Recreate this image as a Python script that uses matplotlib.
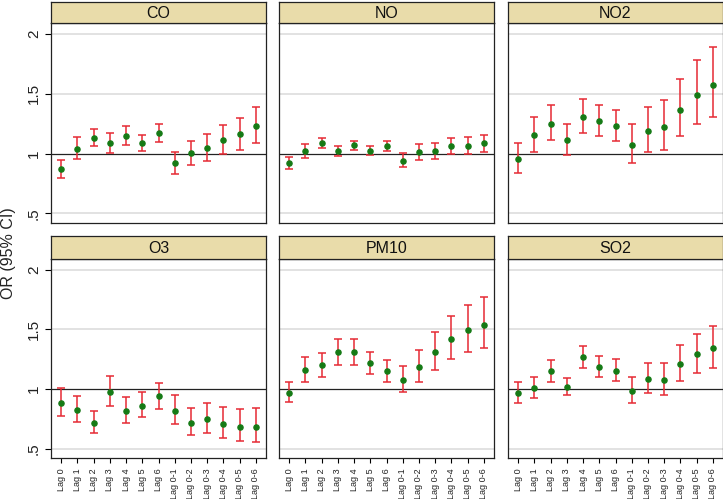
import matplotlib
matplotlib.use("Agg")
import matplotlib.pyplot as plt

plt.rcParams['font.family'] = ['Liberation Sans', 'DejaVu Sans']

lags = ["Lag 0", "Lag 1", "Lag 2", "Lag 3", "Lag 4", "Lag 5", "Lag 6",
        "Lag 0-1", "Lag 0-2", "Lag 0-3", "Lag 0-4", "Lag 0-5", "Lag 0-6"]
pollutants = ["CO", "NO", "NO2", "O3", "PM10", "SO2"]

# odds ratios and 95% CI bounds
co_or = [0.869, 1.042, 1.128, 1.089, 1.145, 1.089, 1.170, 0.919, 1.003, 1.047, 1.114, 1.162, 1.232]
co_hi = [0.947, 1.142, 1.204, 1.170, 1.232, 1.156, 1.251, 1.014, 1.106, 1.165, 1.240, 1.298, 1.388]
co_lo = [0.799, 0.953, 1.061, 1.003, 1.070, 1.025, 1.098, 0.833, 0.905, 0.936, 0.994, 1.033, 1.092]

no_or = [0.919, 1.020, 1.089, 1.020, 1.073, 1.025, 1.067, 0.941, 1.014, 1.022, 1.064, 1.067, 1.092]
no_hi = [0.972, 1.078, 1.134, 1.064, 1.109, 1.061, 1.106, 1.006, 1.078, 1.089, 1.134, 1.139, 1.159]
no_lo = [0.872, 0.961, 1.045, 0.980, 1.033, 0.989, 1.022, 0.886, 0.947, 0.958, 0.997, 1.000, 1.017]

no2_or = [0.958, 1.153, 1.251, 1.114, 1.310, 1.271, 1.232, 1.075, 1.190, 1.223, 1.365, 1.494, 1.575]
no2_hi = [1.092, 1.307, 1.407, 1.251, 1.460, 1.407, 1.368, 1.245, 1.393, 1.446, 1.625, 1.787, 1.893]
no2_lo = [0.838, 1.017, 1.112, 0.992, 1.176, 1.151, 1.109, 0.925, 1.014, 1.033, 1.145, 1.245, 1.307]

o3_or = [0.886, 0.827, 0.719, 0.975, 0.819, 0.861, 0.939, 0.819, 0.719, 0.747, 0.710, 0.685, 0.685]
o3_hi = [1.006, 0.944, 0.813, 1.109, 0.933, 0.975, 1.050, 0.947, 0.844, 0.886, 0.852, 0.833, 0.838]
o3_lo = [0.777, 0.727, 0.635, 0.861, 0.719, 0.766, 0.836, 0.705, 0.613, 0.630, 0.588, 0.565, 0.557]

pm10_or = [0.969, 1.162, 1.198, 1.312, 1.309, 1.217, 1.148, 1.075, 1.189, 1.312, 1.421, 1.499, 1.540]
pm10_hi = [1.058, 1.270, 1.301, 1.423, 1.423, 1.312, 1.240, 1.192, 1.331, 1.479, 1.613, 1.705, 1.769]
pm10_lo = [0.889, 1.058, 1.103, 1.203, 1.203, 1.123, 1.061, 0.972, 1.061, 1.162, 1.253, 1.309, 1.343]

so2_or = [0.967, 1.011, 1.148, 1.014, 1.270, 1.187, 1.153, 0.983, 1.086, 1.075, 1.209, 1.290, 1.343]
so2_hi = [1.058, 1.100, 1.240, 1.089, 1.365, 1.279, 1.248, 1.100, 1.217, 1.217, 1.370, 1.465, 1.529]
so2_lo = [0.883, 0.928, 1.061, 0.947, 1.175, 1.100, 1.067, 0.886, 0.967, 0.953, 1.070, 1.134, 1.173]

series = {
    "CO": (co_or, co_lo, co_hi),
    "NO": (no_or, no_lo, no_hi),
    "NO2": (no2_or, no2_lo, no2_hi),
    "O3": (o3_or, o3_lo, o3_hi),
    "PM10": (pm10_or, pm10_lo, pm10_hi),
    "SO2": (so2_or, so2_lo, so2_hi),
}

W, H = 723, 499
fig = plt.figure(figsize=(W / 100, H / 100), dpi=100)
fig.patch.set_facecolor("white")

col_left = [51, 279, 508]
pw = 215
rows = [(23.3, 223.0, 1.5), (259.0, 458.3, 236.0)]  # plot top, plot bottom, strip top

strip_color = "#e9dcaa"
x = list(range(len(lags)))

for i, name in enumerate(pollutants):
    r, c = divmod(i, 3)
    top, bot, stop = rows[r]
    left = col_left[c]
    ax = fig.add_axes([left / W, (H - bot) / H, pw / W, (bot - top) / H])
    sax = fig.add_axes([left / W, (H - top) / H, pw / W, (top - stop) / H])
    sax.set_facecolor(strip_color)
    sax.set_xticks([])
    sax.set_yticks([])
    for s in sax.spines.values():
        s.set_color("#222222")
        s.set_linewidth(0.9)
    sax.text(0.5, 0.47, name, ha="center", va="center", fontsize=11.5,
             transform=sax.transAxes, color="#111111")

    orv, lo, hi = series[name]
    yerr = [[o - l for o, l in zip(orv, lo)], [h - o for o, h in zip(orv, hi)]]
    for g in [0.5, 1.5, 2.0]:
        ax.axhline(g, color="#dddddd", lw=1.2, zorder=0)
    ax.axhline(1.0, color="#222222", lw=0.9, zorder=1)
    ax.errorbar(x, orv, yerr=yerr, fmt="none", ecolor="#e62a34", elinewidth=1.1,
                capsize=2.8, capthick=1.1, zorder=2)
    ax.plot(x, orv, "o", color="#157a15", ms=3.7, zorder=3)

    ax.set_xlim(-0.62, 12.62)
    ax.set_ylim(0.42, 2.09)
    for s in ax.spines.values():
        s.set_color("#222222")
        s.set_linewidth(0.9)

    if c == 0:
        ax.set_yticks([0.5, 1, 1.5, 2])
        ax.set_yticklabels([".5", "1", "1.5", "2"], rotation=90, va="center",
                           fontsize=11, color="#222222")
        ax.tick_params(axis="y", length=4.3, width=0.8, pad=3)
    else:
        ax.set_yticks([])

    if r == 1:
        ax.set_xticks(x)
        ax.set_xticklabels(lags, rotation=90, fontsize=6.5, color="#222222")
        ax.tick_params(axis="x", length=3.6, width=0.8, pad=3.5)
    else:
        ax.set_xticks([])

fig.text(9 / W, 1 - 253 / H, "OR (95% CI)", rotation=90, ha="center", va="center",
         fontsize=11.5, color="#222222")

fig.savefig("out.png", dpi=100)
